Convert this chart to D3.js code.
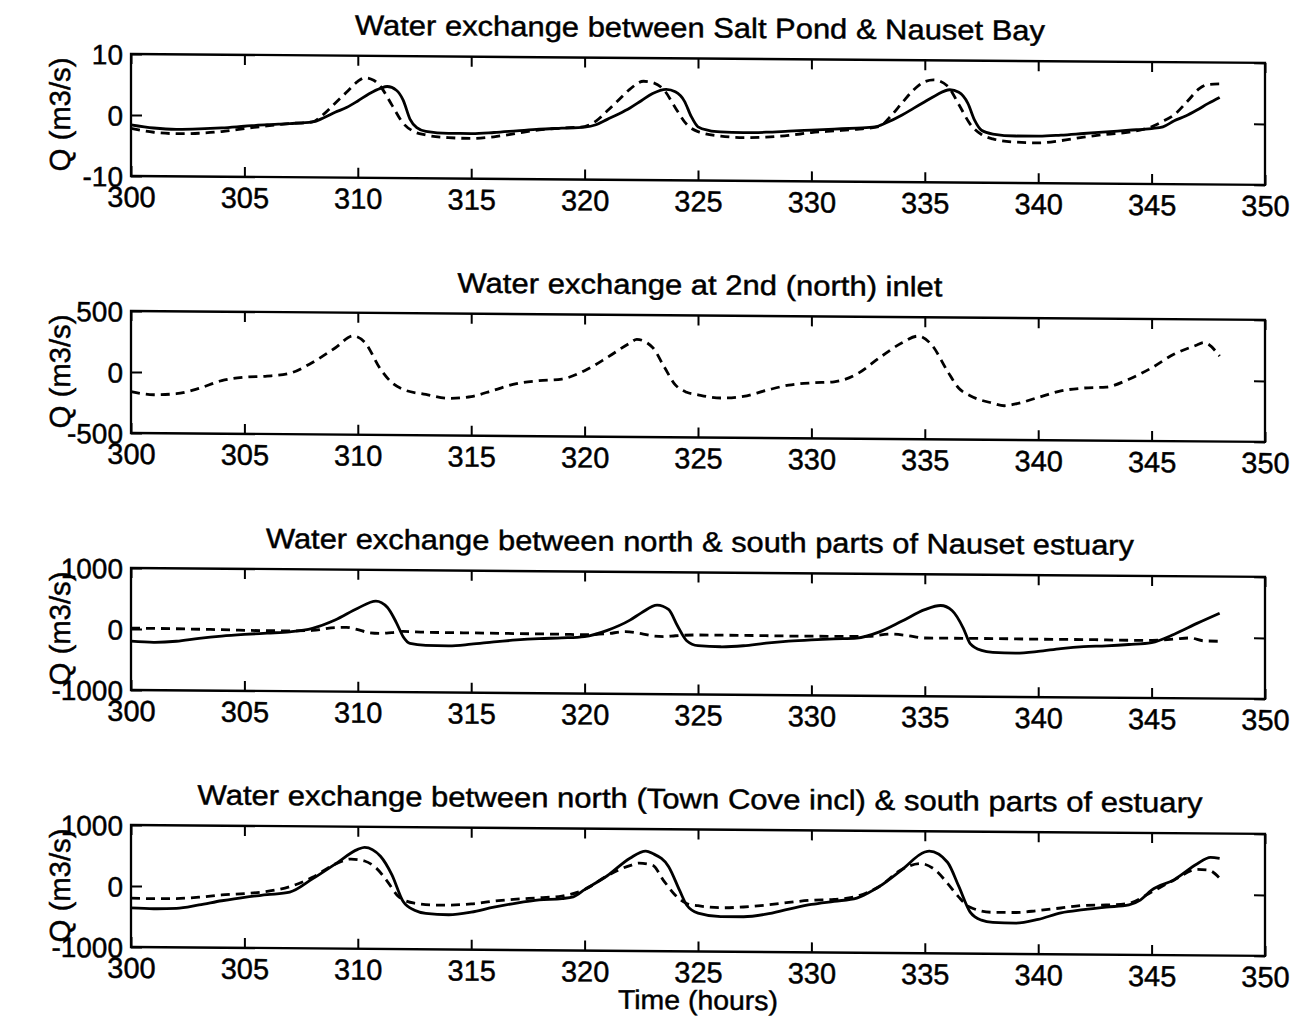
<!DOCTYPE html>
<html>
<head>
<meta charset="utf-8">
<script src="https://cdn.jsdelivr.net/npm/d3@7"></script>
<style>
html,body{margin:0;padding:0;background:#fff;}
svg{display:block;}
text{font-family:"Liberation Sans",Arial,sans-serif;fill:#000;stroke:#000;stroke-width:0.45px;}
</style>
</head>
<body>
<svg id="chart" width="1303" height="1023"></svg>
<script>
// ---------- data ----------
const xTicks = [300, 305, 310, 315, 320, 325, 330, 335, 340, 345, 350];
const titles = [
  "Water exchange between Salt Pond & Nauset Bay",
  "Water exchange at 2nd (north) inlet",
  "Water exchange between north & south parts of Nauset estuary",
  "Water exchange between north (Town Cove incl) & south parts of estuary"
];
const yTicks1 = [-10, 0, 10];
const yTicks2 = [-500, 0, 500];
const yTicks3 = [-1000, 0, 1000];
const yTicks4 = [-1000, 0, 1000];
const yLabel = "Q (m3/s)";
const xLabel = "Time (hours)";

// Panel 1: Salt Pond & Nauset Bay
const p1SolidT = [300,301,302,303,304,305,306,307,308,308.5,309,309.5,310,310.5,311,311.3,311.7,312,312.3,312.6,313,314,315,316,317,318,319,320,320.5,321,321.5,322,322.5,323,323.6,324,324.4,324.7,325,325.5,326,327,328,329,330,331,332,332.8,333.3,334,334.5,335,335.5,336.1,336.5,336.9,337.2,337.5,338,339,340,341,342,343,344,345,345.5,346,346.5,347,347.5,348];
const p1SolidQ = [-1.6,-2.1,-2.3,-2.2,-2.0,-1.7,-1.4,-1.2,-0.9,-0.2,0.7,1.5,2.6,3.8,4.7,5.0,4.4,2.8,-0.3,-1.7,-2.3,-2.6,-2.6,-2.4,-2.1,-1.8,-1.6,-1.4,-1.0,-0.1,0.8,1.8,3.0,4.2,4.9,4.5,3.0,0.5,-1.2,-1.8,-2.0,-2.1,-2.0,-1.8,-1.6,-1.4,-1.2,-1.0,-0.3,1.0,2.1,3.2,4.3,5.2,4.8,3.0,0.2,-1.4,-2.0,-2.3,-2.3,-2.1,-1.8,-1.5,-1.2,-0.9,-0.6,0.4,1.2,2.2,3.3,4.3];
const p1DashT = [300,301,302,303,304,305,306,307,308,308.5,309,309.5,310,310.3,310.7,311,311.5,312,312.5,313,314,315,316,317,318,319,320,320.5,321,321.5,322,322.6,323,323.5,324,324.5,325,326,327,328,329,330,331,332,333,333.5,334,334.5,335,335.4,336,336.5,337,337.5,338,339,340,341,342,343,344,345,345.5,346,346.6,347.1,347.5,348];
const p1DashQ = [-2.2,-2.8,-3.0,-2.9,-2.6,-2.1,-1.6,-1.2,-0.9,0.4,2.2,4.0,5.8,6.4,6.0,5.0,2.0,-1.0,-2.4,-2.9,-3.3,-3.4,-3.1,-2.5,-1.9,-1.6,-1.3,-0.4,1.3,3.1,4.9,6.2,6.0,4.8,1.9,-0.8,-2.0,-2.7,-2.9,-2.8,-2.5,-2.0,-1.7,-1.4,-0.9,0.8,3.0,5.1,6.5,6.8,5.8,2.8,-0.4,-2.1,-2.8,-3.3,-3.4,-3.0,-2.4,-1.9,-1.5,-0.6,0.3,1.4,3.7,5.7,6.4,6.5];

// Panel 2: 2nd (north) inlet
const p2DashT = [300,301,302,303,304,305,306,307,308,309,309.8,310.3,311,311.5,312,313,314,315,316,317,318,319,320,321,322,322.3,323,323.5,324,324.5,325,326,327,328,329,330,331,332,333,334,334.7,335.3,336,336.5,337,338,338.5,339,340,341,342,343,344,345,346,347,347.3,348];
const p2DashQ = [-160,-185,-175,-130,-65,-35,-25,0,90,210,310,260,40,-70,-125,-165,-195,-180,-125,-70,-45,-30,40,150,270,300,235,80,-70,-130,-150,-175,-160,-110,-65,-45,-35,30,165,290,345,275,60,-80,-140,-200,-220,-205,-150,-95,-70,-60,5,100,215,290,310,200];

// Panel 3: north & south parts of Nauset estuary
const p3SolidT = [300,301,302,303,304,305,306,307,308,309,310,310.8,311.3,311.7,312,312.3,313,314,315,316,317,318,319,320,321,322,322.5,323.2,323.7,324.1,324.5,325,326,327,328,329,330,331,332,333,334,335,335.7,336.2,336.7,337,337.5,338,339,340,341,342,343,344,345,346,347,348];
const p3SolidQ = [-200,-215,-195,-145,-105,-75,-50,-25,35,175,370,490,390,140,-90,-200,-230,-235,-205,-165,-130,-105,-90,-65,40,210,330,460,390,120,-120,-200,-215,-195,-150,-115,-90,-70,-55,50,230,420,490,410,120,-130,-240,-270,-280,-250,-200,-165,-150,-125,-90,50,230,400];
const p3DashT = [300,302,304,306,307,308,309,309.5,310,310.5,311,311.5,312,313,315,317,319,320,321,321.8,322.5,323,323.5,324,325,327,329,331,332.5,333.5,334.2,335,336,338,340,342,344,345,346,346.7,347.3,348];
const p3DashQ = [15,10,0,-10,-10,0,50,55,20,-30,-40,-25,-5,-15,-20,-25,-30,-35,-15,20,-10,-45,-55,-40,-25,-25,-30,-30,-25,15,-5,-45,-45,-45,-50,-50,-55,-55,-30,-10,-55,-60];

// Panel 4: north (Town Cove incl) & south parts of estuary
const p4SolidT = [300,301,302,303,304,305,306,307,308,309,310,310.3,311,311.5,312,312.5,313,314,315,316,317,318,319,319.5,320,321,322,322.7,323,323.7,324.2,324.5,325,326,327,328,329,330,331,332,332.5,333,334,335,335.2,336,336.5,337,337.5,338,339,340,341,342,343,344,344.5,345,346,347,347.6,348];
const p4SolidQ = [-360,-370,-360,-300,-230,-170,-125,-80,140,385,630,665,520,220,-220,-360,-410,-430,-385,-300,-230,-175,-150,-120,0,230,520,640,600,390,-10,-240,-370,-425,-425,-380,-295,-215,-160,-105,-20,90,370,660,675,495,100,-320,-450,-485,-495,-430,-320,-265,-220,-180,-100,65,240,500,610,595];
const p4DashT = [300,301,302,303,304,305,306,307,308,309,309.7,310.3,310.8,311.3,311.8,312.5,313.5,315,316,317,318,319,320,321,322,322.4,323,323.5,324,324.5,325,326,327,328,329,330,331,332,333,334,334.8,335.5,336,336.5,337,338,339,340,341,342,343,344,345,346,347,347.5,348];
const p4DashQ = [-200,-205,-200,-175,-135,-110,-70,10,165,385,470,440,330,110,-140,-245,-275,-250,-200,-165,-140,-110,0,230,400,440,405,150,-80,-215,-250,-280,-265,-230,-185,-145,-130,-75,90,375,470,355,150,-75,-240,-320,-320,-285,-240,-195,-185,-155,35,235,410,400,270];

// ---------- layout ----------
const left = 131, right = 1265;
const panelTops = [54, 311, 568, 825];
const panelH = 122;
const skew = 0.0079;

const panels = [
  {title: titles[0], tw: 690, yTicks: yTicks1, series: [{t: p1SolidT, q: p1SolidQ, dash: false}, {t: p1DashT, q: p1DashQ, dash: true}]},
  {title: titles[1], tw: 485, yTicks: yTicks2, series: [{t: p2DashT, q: p2DashQ, dash: true}]},
  {title: titles[2], tw: 868, yTicks: yTicks3, series: [{t: p3SolidT, q: p3SolidQ, dash: false}, {t: p3DashT, q: p3DashQ, dash: true}]},
  {title: titles[3], tw: 1005, yTicks: yTicks4, series: [{t: p4SolidT, q: p4SolidQ, dash: false}, {t: p4DashT, q: p4DashQ, dash: true}]}
];

const svg = d3.select("#chart");
const root = svg.append("g")
  .attr("transform", `matrix(1,${skew},0,1,0,${-skew * left})`);

const x = d3.scaleLinear().domain([xTicks[0], xTicks[xTicks.length - 1]]).range([left, right]);
const fmt = d => String(d);

panels.forEach((p, i) => {
  const top = panelTops[i], bottom = top + panelH;
  const y = d3.scaleLinear().domain(d3.extent(p.yTicks)).range([bottom, top]);
  const g = root.append("g");

  const line = d3.line().x(d => x(d[0])).y(d => y(d[1])).curve(d3.curveMonotoneX);
  p.series.forEach(s => {
    const pts = s.t.map((t, k) => [t, s.q[k]]);
    g.append("path").datum(pts)
      .attr("d", line)
      .attr("fill", "none")
      .attr("stroke", "#000")
      .attr("stroke-width", 2.8)
      .attr("stroke-linejoin", "round")
      .attr("stroke-dasharray", s.dash ? "9,6" : null);
  });

  g.append("rect")
    .attr("x", left).attr("y", top)
    .attr("width", right - left).attr("height", panelH)
    .attr("fill", "none").attr("stroke", "#000").attr("stroke-width", 2.3);

  const ab = g.append("g").attr("transform", `translate(0,${bottom})`)
    .call(d3.axisBottom(x).tickValues(xTicks).tickSize(-10).tickPadding(0).tickFormat(fmt));
  const at = g.append("g").attr("transform", `translate(0,${top})`)
    .call(d3.axisTop(x).tickValues(xTicks).tickSize(-10).tickFormat(""));
  const al = g.append("g").attr("transform", `translate(${left},0)`)
    .call(d3.axisLeft(y).tickValues(p.yTicks).tickSize(-11).tickPadding(0).tickFormat(fmt));
  const ar = g.append("g").attr("transform", `translate(${right},0)`)
    .call(d3.axisRight(y).tickValues(p.yTicks).tickSize(-11).tickFormat(""));

  [ab, at, al, ar].forEach(a => {
    a.attr("font-family", null).attr("font-size", null);
    a.select(".domain").remove();
    a.selectAll(".tick line").attr("stroke", "#000").attr("stroke-width", 2);
  });
  ab.selectAll(".tick text")
    .attr("font-size", 29).attr("fill", "#000")
    .attr("dy", null).attr("y", 31);
  al.selectAll(".tick text")
    .attr("font-size", 28).attr("fill", "#000")
    .attr("x", -8).attr("dy", "0.36em");

  g.append("text")
    .attr("x", 700).attr("y", top - 21)
    .attr("text-anchor", "middle")
    .attr("font-size", 28)
    .attr("textLength", p.tw)
    .attr("lengthAdjust", "spacingAndGlyphs")
    .text(p.title);

  g.append("text")
    .attr("transform", `translate(70,${(top + bottom) / 2}) rotate(-90)`)
    .attr("text-anchor", "middle")
    .attr("font-size", 29)
    .attr("textLength", 114)
    .attr("lengthAdjust", "spacingAndGlyphs")
    .text(yLabel);
});

root.append("text")
  .attr("x", 698).attr("y", panelTops[3] + panelH + 58)
  .attr("text-anchor", "middle")
  .attr("font-size", 27)
  .attr("textLength", 160)
  .attr("lengthAdjust", "spacingAndGlyphs")
  .text(xLabel);
</script>
</body>
</html>
